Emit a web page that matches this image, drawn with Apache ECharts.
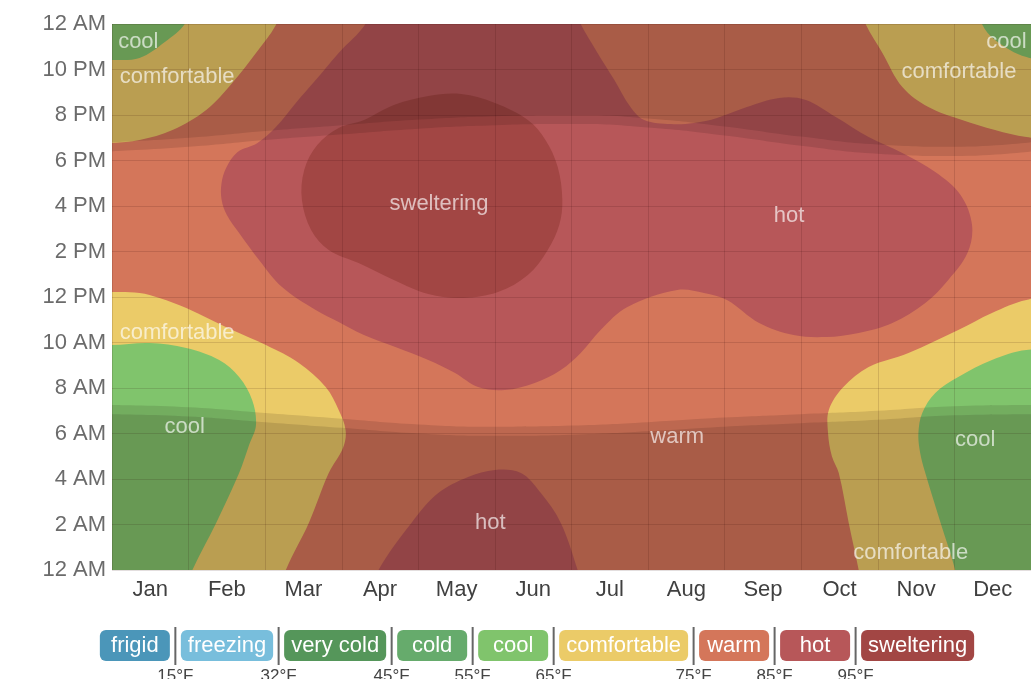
<!DOCTYPE html>
<html>
<head>
<meta charset="utf-8">
<title>Hourly temperature</title>
<script src="https://cdn.jsdelivr.net/npm/echarts@6.0.0/dist/echarts.min.js"></script>
<style>
  html, body { margin: 0; padding: 0; background: #fff; }
  #chart { width: 1031px; height: 679px; }
</style>
</head>
<body>
<div id="chart"></div>
<script>
var months = ['Jan', 'Feb', 'Mar', 'Apr', 'May', 'Jun', 'Jul', 'Aug', 'Sep', 'Oct', 'Nov', 'Dec'];
var hourLabels = ['12 AM', '2 AM', '4 AM', '6 AM', '8 AM', '10 AM', '12 PM', '2 PM', '4 PM', '6 PM', '8 PM', '10 PM', '12 AM'];
var bandNames = ['frigid', 'freezing', 'very cold', 'cold', 'cool', 'comfortable', 'warm', 'hot', 'sweltering'];
var bandLimits = ['15°F', '32°F', '45°F', '55°F', '65°F', '75°F', '85°F', '95°F'];
var bandColors = ['#4b96b9', '#78bedc', '#55965a', '#66ab6c', '#80c46c', '#ebcb68', '#d4765a', '#b75759', '#a24644'];

// band outlines as [month, hour]; month 0 = 1 Jan, 12 = 31 Dec (points past the edge get clipped)
var coolTopLeft = [[-0.6, 22.4], [0, 22.42], [0.36, 22.51], [0.69, 23.21], [0.95, 24], [1.05, 25], [-0.6, 25]];
var comfortableTopLeft = [[-0.6, 18.77], [0, 18.77], [0.36, 18.9], [0.79, 19.34], [1.23, 20.22], [1.57, 21.41], [1.88, 22.73], [2.14, 23.96], [2.25, 25], [-0.6, 25]];
var comfortableTopRight = [[9.75, 25], [9.84, 24], [10.06, 22.73], [10.32, 21.23], [10.66, 20.35], [11.1, 19.78], [11.53, 19.34], [11.94, 19.03], [12.6, 18.9], [12.6, 25]];
var coolTopRight = [[11.3, 25], [11.36, 24], [11.53, 23.3], [11.94, 22.55], [12.6, 22.3], [12.6, 25]];
var comfortableLowLeft = [[-0.6, 12.22], [0, 12.22], [0.36, 12.18], [0.62, 11.96], [0.97, 11.52], [1.57, 10.55], [2.01, 9.89], [2.44, 9.1], [2.79, 8.04], [2.96, 7.03], [3.05, 6.15], [3.02, 5.4], [2.83, 4.26], [2.57, 2.07], [2.27, 0], [2.2, -1], [-0.6, -1]];
var coolLowLeft = [[-0.6, 9.89], [0, 9.89], [0.49, 9.98], [0.97, 9.76], [1.4, 9.23], [1.66, 8.48], [1.83, 7.47], [1.88, 6.37], [1.79, 5.49], [1.66, 4.26], [1.36, 2.07], [1.05, 0], [0.95, -1], [-0.6, -1]];
var comfortableLowRight = [[12.6, 12.1], [11.94, 11.87], [11.49, 11.3], [11.05, 10.55], [10.4, 9.54], [9.88, 8.92], [9.55, 8.04], [9.36, 7.03], [9.35, 6.0], [9.4, 5.0], [9.49, 4.26], [9.62, 2.07], [9.75, 0], [9.8, -1], [12.6, -1]];
var coolLowRight = [[12.6, 9.6], [11.94, 9.67], [11.49, 9.23], [11.05, 8.48], [10.75, 7.78], [10.58, 6.9], [10.53, 6.02], [10.55, 5.2], [10.62, 4.26], [10.82, 2.07], [11.01, 0], [11.05, -1], [12.6, -1]];
var hotMain = [[3.31, 24], [3.4, 25], [6.0, 25], [6.12, 24], [6.34, 22.73], [6.56, 21.54], [6.77, 20.35], [6.95, 19.78], [7.3, 19.6], [7.6, 19.65],
  [7.9, 19.87], [8.29, 20.35], [8.71, 20.75], [9.06, 20.66], [9.45, 19.91], [9.88, 19.03], [10.32, 18.33], [10.75, 17.49], [11.08, 16.48],
  [11.23, 15.16], [11.17, 13.93], [10.92, 12.75], [10.62, 11.74], [10.19, 10.86], [9.75, 10.42], [9.32, 10.24], [8.9, 10.33], [8.45, 10.86],
  [8.03, 11.87], [7.73, 12.18], [7.38, 12.31], [6.73, 11.56], [6.38, 10.55], [6.12, 9.54], [5.86, 8.79], [5.52, 8.22], [5.13, 7.91],
  [4.78, 8.04], [4.48, 8.66], [4.13, 9.23], [3.7, 9.8], [3.29, 10.33], [2.96, 10.9], [2.66, 11.43], [2.22, 12.44], [1.92, 13.63],
  [1.66, 14.81], [1.5, 15.6], [1.43, 16.3], [1.43, 17.0], [1.49, 17.67], [1.64, 18.37], [1.9, 18.77], [2.14, 19.47], [2.4, 20.53],
  [2.66, 21.54], [2.96, 22.73]];
var hotNightHump = [[3.4, -1], [3.48, 0], [3.91, 2.07], [4.26, 3.38], [4.65, 4.09], [5.0, 4.4], [5.34, 4.26], [5.6, 3.38], [5.86, 2.07], [6.08, 0], [6.15, -1]];
var swelteringMain = [[2.83, 14.07], [2.6, 14.95], [2.48, 16.26], [2.51, 17.58], [2.68, 18.68], [2.96, 19.43], [3.29, 19.78], [3.68, 20.44],
  [4.13, 20.84], [4.56, 20.92], [5.0, 20.53], [5.43, 19.78], [5.66, 18.9], [5.82, 17.71], [5.88, 16.26], [5.84, 15.16], [5.69, 14.07],
  [5.43, 12.97], [5.04, 12.22], [4.58, 11.96], [4.13, 12.13], [3.68, 12.75], [3.22, 13.49]];

// night and twilight edges, [month, hour]
var dawn = [[0, 6.85], [1, 6.75], [2, 6.5], [3, 6.25], [4, 6.0], [5, 5.9], [6, 5.95], [7, 6.1], [8, 6.3], [9, 6.45], [10, 6.6], [11, 6.8], [12, 6.85]];
var sunrise = [[0, 7.25], [1, 7.15], [2, 6.9], [3, 6.65], [4, 6.4], [5, 6.3], [6, 6.35], [7, 6.5], [8, 6.7], [9, 6.85], [10, 7.0], [11, 7.2], [12, 7.25]];
var sunset = [[0, 18.4], [1, 18.6], [2, 18.9], [3, 19.15], [4, 19.4], [5, 19.55], [6, 19.6], [7, 19.45], [8, 19.1], [9, 18.65], [10, 18.3], [11, 18.2], [12, 18.4]];
var dusk = [[0, 18.8], [1, 19.0], [2, 19.3], [3, 19.55], [4, 19.8], [5, 19.95], [6, 20.0], [7, 19.85], [8, 19.5], [9, 19.05], [10, 18.7], [11, 18.6], [12, 18.8]];

var regionLabels = [['cool', 0.08, 23.2], ['comfortable', 0.1, 21.67], ['sweltering', 4.27, 16.09], ['hot', 8.84, 15.56],
  ['comfortable', 0.1, 10.42], ['cool', 0.95, 6.29], ['warm', 7.38, 5.85], ['cool', 11.27, 5.71], ['hot', 4.94, 2.07],
  ['comfortable', 10.43, 0.75], ['cool', 11.68, 23.2], ['comfortable', 11.06, 21.89]];

var FONT = '"Liberation Sans", Arial, Helvetica, sans-serif';

function bandColor(name) {
  return bandColors[bandNames.indexOf(name)];
}

// drawing order: later layers paint over earlier ones
var layers = [
  ['comfortable', comfortableTopLeft], ['comfortable', comfortableTopRight],
  ['comfortable', comfortableLowLeft], ['comfortable', comfortableLowRight],
  ['cool', coolTopLeft], ['cool', coolTopRight], ['cool', coolLowLeft], ['cool', coolLowRight],
  ['hot', hotMain], ['hot', hotNightHump],
  ['sweltering', swelteringMain]
];

function shade(data, origin, alpha) {
  return {
    type: 'line', xAxisIndex: 1, yAxisIndex: 0, data: data, smooth: true, symbol: 'none', silent: true, z: 3,
    lineStyle: { width: 0 },
    areaStyle: { origin: origin, color: 'rgba(25,5,5,' + alpha + ')', opacity: 1 }
  };
}

// legend badges along the bottom
function buildLegend() {
  var ctx = document.createElement('canvas').getContext('2d');
  ctx.font = '22px ' + FONT;
  var widths = bandNames.map(function (n) { return Math.max(70, ctx.measureText(n).width + 14); });
  var gap = 11;
  var total = widths.reduce(function (a, b) { return a + b; }, 0) + gap * (widths.length - 1);
  var x = 537 - total / 2;
  var els = [];
  bandNames.forEach(function (n, i) {
    var w = widths[i];
    els.push({ type: 'rect', shape: { x: x, y: 630, width: w, height: 31, r: 6 }, style: { fill: bandColors[i] } });
    els.push({ type: 'text', x: x + w / 2, y: 646, style: { text: n, fill: '#fff', fontSize: 22, fontFamily: FONT,
      align: 'center', verticalAlign: 'middle', textAlign: 'center', textVerticalAlign: 'middle' } });
    if (i < bandNames.length - 1) {
      var sx = x + w + gap / 2;
      els.push({ type: 'rect', shape: { x: sx - 1, y: 627, width: 2, height: 38 }, style: { fill: '#666' } });
      els.push({ type: 'text', x: sx, y: 668, style: { text: bandLimits[i], fill: '#444', fontSize: 17, fontFamily: FONT,
        align: 'center', verticalAlign: 'top', textAlign: 'center', textVerticalAlign: 'top' } });
    }
    x += w + gap;
  });
  return els;
}

var chart = echarts.init(document.getElementById('chart'));
var option = {
  animation: false,
  backgroundColor: '#fff',
  textStyle: { fontFamily: FONT },
  grid: { left: 112, top: 24, width: 924, height: 546, show: true, borderWidth: 0, backgroundColor: bandColor('warm') },
  xAxis: [{
    type: 'category', data: months, boundaryGap: true, z: 5,
    axisLine: { show: false }, axisTick: { show: false },
    axisLabel: { interval: 0, fontSize: 22, color: '#404040', margin: 9 },
    splitLine: { show: true, interval: 0, lineStyle: { color: 'rgba(40,0,0,0.13)', width: 1 } }
  }, {
    type: 'value', min: 0, max: 12, show: false
  }],
  yAxis: {
    type: 'value', min: 0, max: 24, interval: 2, z: 5,
    axisLine: { show: false }, axisTick: { show: false },
    axisLabel: { fontSize: 22, color: '#6b6b6b', margin: 6, formatter: function (v) { return hourLabels[v / 2]; } },
    splitLine: { show: true, lineStyle: { color: 'rgba(40,0,0,0.13)', width: 1 } }
  },
  series: [{
    type: 'custom', xAxisIndex: 1, yAxisIndex: 0, clip: true, silent: true, z: 1,
    data: [[0, 0]],
    renderItem: function (params, api) {
      return {
        type: 'group',
        children: layers.map(function (l) {
          return {
            type: 'polygon',
            shape: { points: l[1].map(function (p) { return api.coord(p); }), smooth: 0.35 },
            style: { fill: bandColor(l[0]) }
          };
        })
      };
    }
  },
    shade(dawn, 'start', 0.12), shade(sunrise, 'start', 0.12),
    shade(sunset, 'end', 0.12), shade(dusk, 'end', 0.12),
  {
    type: 'scatter', xAxisIndex: 1, yAxisIndex: 0, silent: true, z: 6,
    symbolSize: 1, itemStyle: { color: 'transparent' },
    data: regionLabels.map(function (r) {
      return { name: r[0], value: [r[1], r[2]], label: { align: r[1] < 0.2 ? 'left' : 'center' } };
    }),
    label: { show: true, position: 'inside', formatter: '{b}', color: 'rgba(255,255,255,0.82)', fontSize: 22 }
  }],
  graphic: buildLegend()
};
chart.setOption(option);
</script>
</body>
</html>
